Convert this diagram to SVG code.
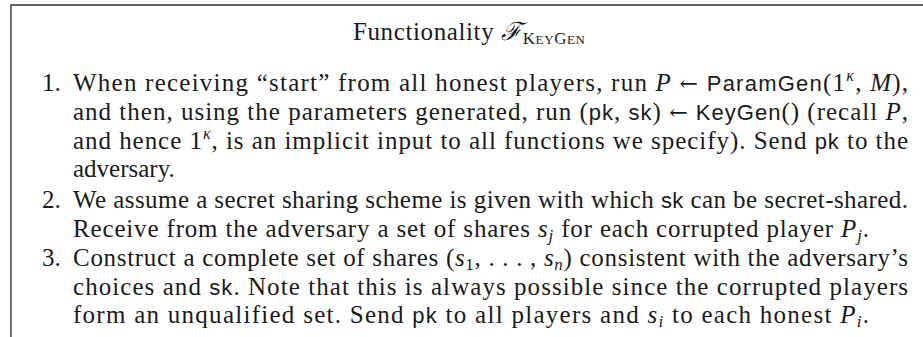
<svg xmlns="http://www.w3.org/2000/svg" width="923" height="337" viewBox="0 0 923 337">
  <style>
    text { font-family: "Liberation Serif", "Times New Roman", serif; font-size: 25px; fill: #1a1a1a; }
    .sf { font-family: "Liberation Sans", Arial, sans-serif; font-size: 22px; }
    .mi { font-style: italic; }
    .ar { font-family: "DejaVu Serif", serif; font-size: 22px; }
    .sub { font-size: 17px; font-style: italic; }
    .subn { font-size: 17px; }
    .sup { font-size: 16px; font-style: italic; }
    .cal { font-family: "DejaVu Serif", "Liberation Serif", serif; font-style: italic; }
    .sc { font-size: 17px; }
    .sc2 { font-size: 13px; }
    .frame { fill: none; stroke: #2a2a2a; stroke-width: 1.3; }
  </style>

  <!-- frame: top and left rules only -->
  <path class="frame" d="M923,5 H11 V337"/>

  <!-- heading -->
  <g id="title">
    <text x="353" y="40" textLength="232" lengthAdjust="spacing">Functionality <tspan class="cal">ℱ</tspan><tspan class="sc" dy="4">K</tspan><tspan class="sc2">EY</tspan><tspan class="sc">G</tspan><tspan class="sc2">EN</tspan></text>
  </g>

  <!-- item 1 -->
  <g id="item1">
    <text x="42" y="91">1.</text>
    <text x="73" y="91" textLength="835" lengthAdjust="spacing">When receiving “start” from all honest players, run <tspan class="mi">P</tspan> <tspan class="ar">←</tspan> <tspan class="sf">ParamGen</tspan>(1<tspan class="sup" dy="-10">κ</tspan><tspan dy="10">, </tspan><tspan class="mi">M</tspan>),</text>
    <text x="73" y="120" textLength="835" lengthAdjust="spacing">and then, using the parameters generated, run (<tspan class="sf">pk</tspan>, <tspan class="sf">sk</tspan>) <tspan class="ar">←</tspan> <tspan class="sf">KeyGen</tspan>() (recall <tspan class="mi">P</tspan>,</text>
    <text x="73" y="148.5" textLength="835" lengthAdjust="spacing">and hence 1<tspan class="sup" dy="-10">κ</tspan><tspan dy="10">, is an implicit input to all functions we specify). Send </tspan><tspan class="sf">pk</tspan> to the</text>
    <text x="73" y="177">adversary.</text>
  </g>

  <!-- item 2 -->
  <g id="item2">
    <text x="42" y="208">2.</text>
    <text x="73" y="208" textLength="835" lengthAdjust="spacing">We assume a secret sharing scheme is given with which <tspan class="sf">sk</tspan> can be secret-shared.</text>
    <text x="73" y="237" textLength="796" lengthAdjust="spacing">Receive from the adversary a set of shares <tspan class="mi">s</tspan><tspan class="sub" dy="4">j</tspan><tspan dy="-4"> for each corrupted player </tspan><tspan class="mi">P</tspan><tspan class="sub" dy="4">j</tspan><tspan dy="-4">.</tspan></text>
  </g>

  <!-- item 3 -->
  <g id="item3">
    <text x="42" y="266">3.</text>
    <text x="73" y="266" textLength="835" lengthAdjust="spacing">Construct a complete set of shares (<tspan class="mi">s</tspan><tspan class="subn" dy="4">1</tspan><tspan dy="-4">, . . . , </tspan><tspan class="mi">s</tspan><tspan class="sub" dy="4">n</tspan><tspan dy="-4">) consistent with the adversary’s</tspan></text>
    <text x="73" y="294.5" textLength="835" lengthAdjust="spacing">choices and <tspan class="sf">sk</tspan>. Note that this is always possible since the corrupted players</text>
    <text x="73" y="323" textLength="796" lengthAdjust="spacing">form an unqualified set. Send <tspan class="sf">pk</tspan> to all players and <tspan class="mi">s</tspan><tspan class="sub" dy="4">i</tspan><tspan dy="-4"> to each honest </tspan><tspan class="mi">P</tspan><tspan class="sub" dy="4">i</tspan><tspan dy="-4">.</tspan></text>
  </g>
</svg>
